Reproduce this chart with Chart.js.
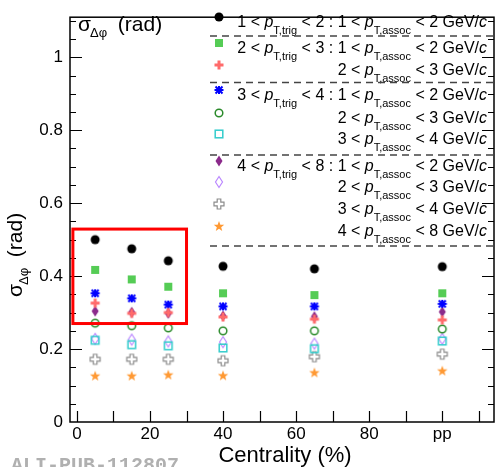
<!DOCTYPE html>
<html>
<head>
<meta charset="utf-8">
<script src="https://cdn.jsdelivr.net/npm/chart.js@4.4.0/dist/chart.umd.min.js"></script>
<style>
  html, body { margin: 0; padding: 0; background: #fff; }
  #wrap { width: 500px; height: 467px; }
</style>
</head>
<body>
<div id="wrap"><canvas id="c" width="500" height="467"></canvas></div>
<script>
// centrality bins (pp drawn at 100)
const centrality = [5, 15, 25, 40, 65, 100];

// sigma_dphi values, named trig_assoc
const s1_12 = [0.500, 0.475, 0.442, 0.427, 0.420, 0.426];
const s2_12 = [0.417, 0.391, 0.371, 0.353, 0.348, 0.353];
const s2_23 = [0.326, 0.298, 0.300, 0.288, 0.282, 0.280];
const s3_12 = [0.353, 0.339, 0.322, 0.317, 0.317, 0.324];
const s3_23 = [0.271, 0.264, 0.258, 0.250, 0.250, 0.255];
const s3_34 = [0.224, 0.212, 0.209, 0.203, 0.201, 0.222];
const s4_12 = [0.304, 0.301, 0.298, 0.291, 0.289, 0.302];
const s4_23 = [0.228, 0.226, 0.221, 0.219, 0.215, 0.228];
const s4_34 = [0.172, 0.172, 0.172, 0.168, 0.179, 0.186];
const s4_48 = [0.127, 0.127, 0.130, 0.128, 0.136, 0.141];

const xTickValues = [0, 10, 20, 30, 40, 50, 60, 70, 80, 90, 100, 110];
const xTickLabels = ['0', '', '20', '', '40', '', '60', '', '80', '', 'pp', ''];
const yTickValues = [0, 0.2, 0.4, 0.6, 0.8, 1];
const yTickLabels = ['0', '0.2', '0.4', '0.6', '0.8', '1'];

const legendTrig  = [[1, 2], [2, 3], null, [3, 4], null, null, [4, 8], null, null, null];
const legendAssoc = [[1, 2], [1, 2], [2, 3], [1, 2], [2, 3], [3, 4], [1, 2], [2, 3], [3, 4], [4, 8]];

// highlighted box (data coords)
const boxX = [-1.1, 30];
const boxY = [0.270, 0.529];

const FONT = '"Liberation Sans", Arial, Helvetica, sans-serif';

function mk(w, h, fn) {
  const c = document.createElement('canvas');
  c.width = w; c.height = h;
  const g = c.getContext('2d');
  fn(g, w / 2, h / 2);
  return c;
}

const mFullCircle = mk(12, 12, (g, x, y) => {
  g.fillStyle = '#000'; g.beginPath(); g.arc(x, y, 4.5, 0, Math.PI * 2); g.fill();
});
const mFullSquare = mk(12, 12, (g, x, y) => {
  g.fillStyle = '#55cc55'; g.fillRect(x - 4, y - 4, 8, 8);
});
const mFullCross = mk(12, 12, (g, x, y) => {
  g.fillStyle = '#ff6b6b';
  g.fillRect(x - 4.5, y - 1.5, 9, 3); g.fillRect(x - 1.5, y - 4.5, 3, 9);
});
const mAsterisk = mk(12, 12, (g, x, y) => {
  g.strokeStyle = '#0000ff'; g.lineWidth = 2; g.beginPath();
  g.moveTo(x - 4.5, y); g.lineTo(x + 4.5, y);
  g.moveTo(x - 3.5, y - 3.5); g.lineTo(x + 3.5, y + 3.5);
  g.moveTo(x - 3.5, y + 3.5); g.lineTo(x + 3.5, y - 3.5);
  g.moveTo(x, y - 4); g.lineTo(x, y + 4);
  g.stroke();
});
const mOpenCircle = mk(12, 12, (g, x, y) => {
  g.strokeStyle = '#2a8a2a'; g.lineWidth = 1.5; g.beginPath(); g.arc(x, y, 3.8, 0, Math.PI * 2); g.stroke();
});
const mOpenSquare = mk(12, 12, (g, x, y) => {
  g.strokeStyle = '#33cccc'; g.lineWidth = 1.5; g.strokeRect(x - 3.8, y - 3.8, 7.6, 7.6);
});
const mFullDiamond = mk(12, 14, (g, x, y) => {
  g.fillStyle = '#8b2a8b'; g.beginPath();
  g.moveTo(x, y - 5.5); g.lineTo(x + 3.5, y); g.lineTo(x, y + 5.5); g.lineTo(x - 3.5, y); g.closePath(); g.fill();
});
const mOpenDiamond = mk(12, 14, (g, x, y) => {
  g.strokeStyle = '#bb88ff'; g.lineWidth = 1.2; g.beginPath();
  g.moveTo(x, y - 5.5); g.lineTo(x + 3.5, y); g.lineTo(x, y + 5.5); g.lineTo(x - 3.5, y); g.closePath(); g.stroke();
});
const mOpenCross = mk(14, 14, (g, x, y) => {
  const a = 1.8, b = 5;
  g.strokeStyle = '#8c8c8c'; g.lineWidth = 1.2; g.beginPath();
  g.moveTo(x - a, y - b); g.lineTo(x + a, y - b); g.lineTo(x + a, y - a); g.lineTo(x + b, y - a);
  g.lineTo(x + b, y + a); g.lineTo(x + a, y + a); g.lineTo(x + a, y + b); g.lineTo(x - a, y + b);
  g.lineTo(x - a, y + a); g.lineTo(x - b, y + a); g.lineTo(x - b, y - a); g.lineTo(x - a, y - a);
  g.closePath(); g.stroke();
});
const mFullStar = mk(14, 14, (g, x, y) => {
  g.fillStyle = '#ff9933'; g.beginPath();
  for (let i = 0; i < 10; i++) {
    const r = i % 2 ? 2.3 : 5.5;
    const a = -Math.PI / 2 + i * Math.PI / 5;
    const px = x + r * Math.cos(a), py = y + 0.5 + r * Math.sin(a);
    if (i === 0) g.moveTo(px, py); else g.lineTo(px, py);
  }
  g.closePath(); g.fill();
});

const seriesList = [s1_12, s2_12, s2_23, s3_12, s3_23, s3_34, s4_12, s4_23, s4_34, s4_48];
const markers = [mFullCircle, mFullSquare, mFullCross, mAsterisk, mOpenCircle, mOpenSquare,
                 mFullDiamond, mOpenDiamond, mOpenCross, mFullStar];

const datasets = seriesList.map((s, i) => ({
  data: s.map((v, k) => ({ x: centrality[k], y: v })),
  pointStyle: markers[i],
  pointRadius: 5,
  showLine: false
}));

function drawRich(ctx, parts, xRight, base) {
  const f = p => (p.it ? 'italic ' : '') + (p.sub ? 11 : 16) + 'px ' + FONT;
  let w = 0;
  parts.forEach(p => { ctx.font = f(p); w += ctx.measureText(p.t).width; });
  let x = xRight - w;
  parts.forEach(p => {
    ctx.font = f(p);
    ctx.fillText(p.t, x, base + (p.sub ? 7 : 0));
    x += ctx.measureText(p.t).width;
  });
}

const decor = {
  id: 'decor',
  beforeDatasetsDraw(chart) {
    const { ctx, chartArea: a, scales: { x, y } } = chart;
    ctx.save();
    ctx.strokeStyle = '#000';
    ctx.lineWidth = 1.5;
    ctx.strokeRect(a.left, a.top, a.right - a.left, a.bottom - a.top);
    ctx.lineWidth = 1.2;
    ctx.beginPath();
    xTickValues.forEach(v => {
      const px = Math.round(x.getPixelForValue(v)) + 0.5;
      ctx.moveTo(px, a.bottom); ctx.lineTo(px, a.bottom - 11);
    });
    for (let k = 1; k <= 22; k++) {
      const v = k * 0.05;
      const len = k % 4 === 0 ? 12 : 6;
      const py = Math.round(y.getPixelForValue(v)) + 0.5;
      ctx.moveTo(a.left, py); ctx.lineTo(a.left + len, py);
      ctx.moveTo(a.right, py); ctx.lineTo(a.right - len, py);
    }
    ctx.stroke();
    ctx.restore();
  },
  afterDatasetsDraw(chart) {
    const { ctx, scales: { x, y } } = chart;
    ctx.save();
    ctx.strokeStyle = '#ff0000';
    ctx.lineWidth = 3;
    const x0 = x.getPixelForValue(boxX[0]), x1 = x.getPixelForValue(boxX[1]);
    const y0 = y.getPixelForValue(boxY[1]), y1 = y.getPixelForValue(boxY[0]);
    ctx.strokeRect(x0, y0, x1 - x0, y1 - y0);
    ctx.restore();
  },
  afterDraw(chart) {
    const { ctx } = chart;
    ctx.save();
    ctx.fillStyle = '#000';
    ctx.textBaseline = 'alphabetic';

    // legend
    const rowY = [17, 43, 65, 90, 113, 134, 161, 182, 204, 226];
    rowY.forEach((ry, i) => {
      const m = markers[i];
      ctx.drawImage(m, 219 - m.width / 2, ry - m.height / 2);
      const parts = [];
      const t = legendTrig[i], as = legendAssoc[i];
      if (t) {
        parts.push({ t: t[0] + ' < ' }, { t: 'p', it: true }, { t: 'T,trig', sub: true },
                   { t: ' < ' + t[1] + ' : ' });
      }
      parts.push({ t: as[0] + ' < ' }, { t: 'p', it: true }, { t: 'T,assoc', sub: true },
                 { t: ' < ' + as[1] + ' GeV/' }, { t: 'c', it: true });
      drawRich(ctx, parts, 487, ry + 10);
    });
    ctx.strokeStyle = '#444';
    ctx.lineWidth = 1.5;
    ctx.setLineDash([7, 5]);
    ctx.beginPath();
    [36, 82.5, 155, 246].forEach(dy => { ctx.moveTo(210, dy); ctx.lineTo(497, dy); });
    ctx.stroke();
    ctx.setLineDash([]);

    // in-frame title
    ctx.font = '21px ' + FONT;
    ctx.fillText('\u03c3', 78, 31);
    ctx.font = '13px ' + FONT;
    ctx.fillText('\u0394\u03c6', 90, 37);
    ctx.font = '21px ' + FONT;
    ctx.fillText(' (rad)', 112, 31);

    // y title
    ctx.save();
    ctx.translate(22, 297);
    ctx.rotate(-Math.PI / 2);
    ctx.font = '21px ' + FONT;
    ctx.fillText('\u03c3', 0, 0);
    ctx.font = '13px ' + FONT;
    ctx.fillText('\u0394\u03c6', 12, 6);
    ctx.font = '21px ' + FONT;
    ctx.fillText(' (rad)', 34, 0);
    ctx.restore();

    // x title
    ctx.font = '22px ' + FONT;
    ctx.textAlign = 'center';
    ctx.fillText('Centrality (%)', 285, 462);

    // tag
    ctx.textAlign = 'left';
    ctx.fillStyle = '#b0b0b0';
    ctx.font = 'bold 20px "Liberation Mono", "DejaVu Sans Mono", monospace';
    ctx.fillText('ALI-PUB-112807', 11, 471);
    ctx.restore();
  }
};

new Chart(document.getElementById('c'), {
  type: 'scatter',
  data: { datasets },
  options: {
    responsive: false,
    animation: false,
    devicePixelRatio: 1,
    layout: { padding: { top: 7, right: 1, left: 0, bottom: 0 } },
    plugins: { legend: { display: false }, tooltip: { enabled: false } },
    scales: {
      x: {
        type: 'linear',
        min: -1.89,
        max: 114.15,
        afterBuildTicks: s => { s.ticks = xTickValues.map(v => ({ value: v })); },
        afterFit: s => { s.height = 45; },
        ticks: {
          callback: v => xTickLabels[xTickValues.indexOf(v)],
          font: { family: FONT, size: 17 },
          color: '#000',
          padding: 2,
          maxRotation: 0,
          autoSkip: false
        },
        grid: { display: false, drawTicks: false },
        border: { display: false }
      },
      y: {
        min: 0,
        max: 1.11,
        afterBuildTicks: s => { s.ticks = yTickValues.map(v => ({ value: v })); },
        afterFit: s => { s.width = 70; },
        ticks: {
          callback: v => yTickLabels[yTickValues.indexOf(v)],
          font: { family: FONT, size: 17 },
          color: '#000',
          padding: 7,
          autoSkip: false
        },
        grid: { display: false, drawTicks: false },
        border: { display: false }
      }
    }
  },
  plugins: [decor]
});
</script>
</body>
</html>
